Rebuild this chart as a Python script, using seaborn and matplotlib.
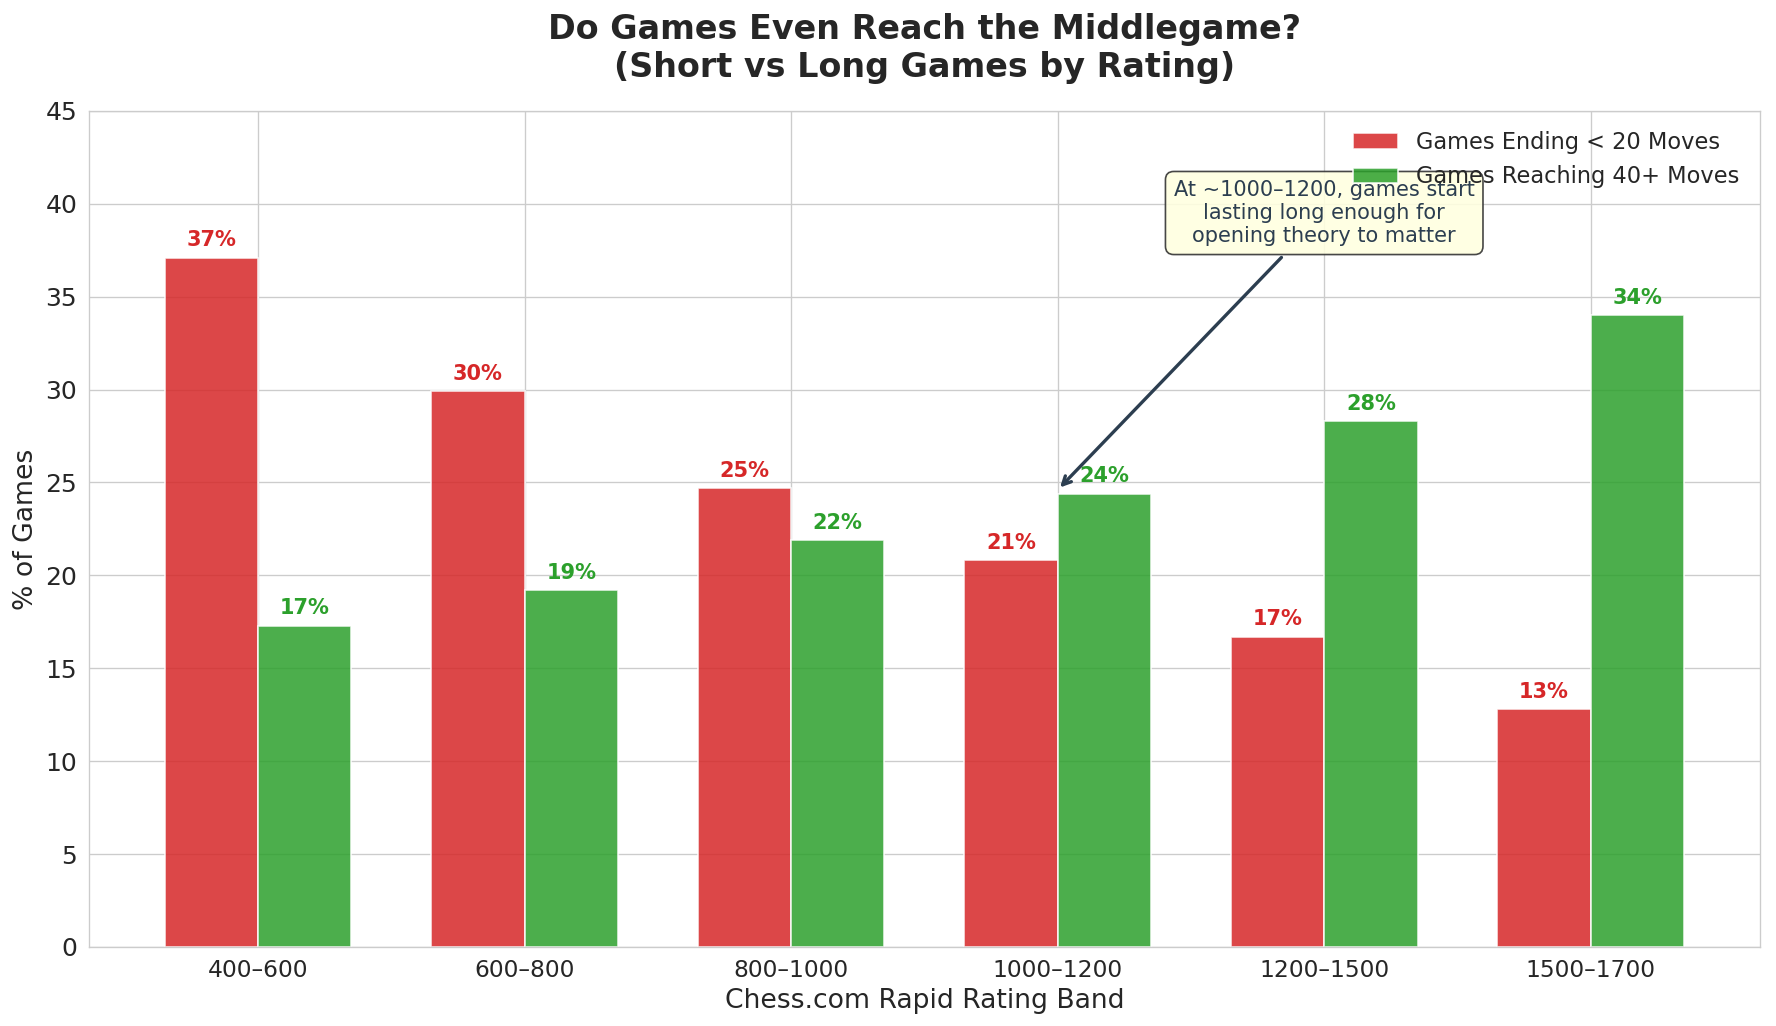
import pandas as pd
import seaborn as sns
import matplotlib.pyplot as plt
plt.switch_backend('Agg')

bands = ["400–600", "600–800", "800–1000", "1000–1200", "1200–1500", "1500–1700"]
short_games = [37.1, 29.9, 24.7, 20.8, 16.7, 12.8]
long_games = [17.3, 19.2, 21.9, 24.4, 28.3, 34.0]
series_names = ["Games Ending < 20 Moves", "Games Reaching 40+ Moves"]
colors = ["#d62728", "#2ca02c"]

df = pd.DataFrame({
    "band": bands * 2,
    "pct": short_games + long_games,
    "series": [series_names[0]] * len(bands) + [series_names[1]] * len(bands),
})

sns.set_style("whitegrid")
fig, ax = plt.subplots(figsize=(14.8, 8.55), dpi=120)

sns.barplot(data=df, x="band", y="pct", hue="series", palette=colors, saturation=1,
            width=0.7, alpha=0.85, edgecolor="white", linewidth=1, ax=ax)
ax.xaxis.grid(True)
ax.set_axisbelow(True)

for container, color in zip(ax.containers, colors):
    for bar in container:
        h = bar.get_height()
        ax.text(bar.get_x() + bar.get_width() / 2, h + 0.4, f"{h:.0f}%",
                ha="center", va="bottom", fontsize=12.5, fontweight="bold", color=color)

ax.annotate("At ~1000–1200, games start\nlasting long enough for\nopening theory to matter",
            xy=(3.0, 24.6), xytext=(4.0, 39.5), ha="center", va="center",
            fontsize=12.5, color="#2c3e50",
            arrowprops=dict(arrowstyle="->", color="#2c3e50", lw=2),
            bbox=dict(boxstyle="round,pad=0.4", facecolor="lightyellow",
                      edgecolor="#333333", alpha=0.9))

ax.set_ylim(0, 45)
ax.set_xlim(-0.635, 5.635)
ax.set_xlabel("Chess.com Rapid Rating Band", fontsize=16)
ax.set_ylabel("% of Games", fontsize=16)
ax.set_title("Do Games Even Reach the Middlegame?\n(Short vs Long Games by Rating)",
             fontsize=20, fontweight="bold", pad=20)
ax.tick_params(axis="x", labelsize=14)
ax.tick_params(axis="y", labelsize=15)
ax.legend(loc="upper right", fontsize=13.5, title=None, frameon=False)
for s in ax.spines.values():
    s.set_visible(True)
    s.set_color("#cccccc")

plt.subplots_adjust(left=0.05, right=0.991, top=0.892, bottom=0.077)
plt.savefig("out.png", dpi=120)
plt.close()
